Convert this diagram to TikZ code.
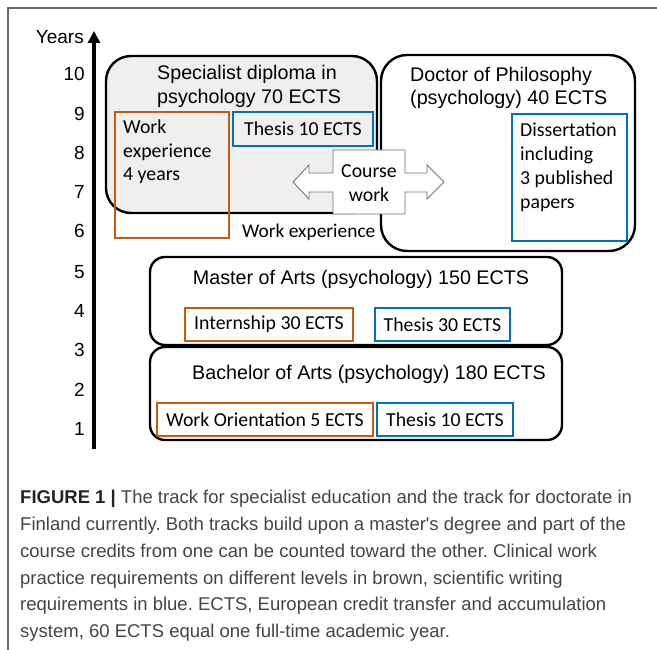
\documentclass[tikz,border=0pt]{standalone}
\usepackage{fontspec}
\setmainfont{Liberation Sans}
\newfontfamily\calfont{Carlito}
\newfontfamily\capfont{Liberation Sans}
\usetikzlibrary{arrows.meta}
\definecolor{brn}{RGB}{197,90,17}
\definecolor{blu}{RGB}{0,112,192}
\definecolor{lgray}{RGB}{239,239,239}
\definecolor{capgray}{RGB}{68,68,68}
\definecolor{capdark}{RGB}{35,35,35}
\frenchspacing
\begin{document}
\begin{tikzpicture}[x=1pt,y=-1pt,
  big/.style={draw=black, line width=2.4pt, rounded corners=#1, inner sep=0pt},
  big/.default=16pt,
  brnbox/.style={draw=brn, line width=2.6pt, inner sep=0pt},
  blubox/.style={draw=blu, line width=2.6pt, inner sep=0pt},
  head/.style={font=\fontsize{19.7}{23.5}\selectfont, inner sep=0pt, align=left},
  lab/.style={font=\calfont\fontsize{19.8}{23.5}\selectfont, inner sep=0pt, align=left},
  axlab/.style={font=\fontsize{19}{23}\selectfont, inner sep=0pt, anchor=east}
]
\useasboundingbox (0,0) rectangle (657,650);
% frame
\coordinate (fr1) at (657,8);
\coordinate (fr2) at (8,8);
\coordinate (fr3) at (8,650);
\draw[draw=black!60, line width=1.3pt] (fr1) -- (fr2) -- (fr3);

% axis
\coordinate (axb) at (94,449);
\coordinate (axt) at (94,31);
\draw[line width=4pt, -{Triangle[width=12pt,length=12pt]}] (axb) -- (axt);
\node[axlab] (years) at (84,37) {Years};
\foreach \n/\yy in {10/74,9/114,8/153,7/192,6/231,5/272,4/311,3/350,2/390,1/429}{
  \node[axlab] (t\n) at (85,\yy) {\n};
}

% big boxes
\node[big=25pt, fill=lgray, minimum width=271pt, minimum height=157pt] (spec) at (241.5,134.5) {};
\node[big=26pt, fill=white, minimum width=254pt, minimum height=196pt] (doc) at (508,153) {};
\node[big=15pt, minimum width=412pt, minimum height=88pt] (ma) at (356,301) {};
\node[big=15pt, minimum width=412pt, minimum height=93pt] (ba) at (356,393.5) {};

% coloured boxes
\node[brnbox, minimum width=114pt, minimum height=126pt] (work) at (172,175) {};
\node[blubox, minimum width=140pt, minimum height=34pt] (thspec) at (303,129) {};
\node[blubox, minimum width=115pt, minimum height=127pt] (diss) at (569.5,177.5) {};
\node[brnbox, minimum width=168pt, minimum height=33pt] (intern) at (269,324.5) {};
\node[blubox, minimum width=135pt, minimum height=33pt] (th30) at (442.5,324.5) {};
\node[brnbox, minimum width=216pt, minimum height=33pt] (wo) at (265,419.5) {};
\node[blubox, minimum width=136pt, minimum height=33pt] (th10) at (445,419.5) {};

% course work double arrow
\draw[draw=black!55, fill=white, line width=0.9pt]
  (293,182) -- (309,165) -- (309,173) -- (333,173) -- (333,150) -- (405,150)
  -- (405,173) -- (427,173) -- (427,165) -- (444,182) -- (427,199) -- (427,192)
  -- (405,192) -- (405,214) -- (333,214) -- (333,192) -- (309,192) -- (309,199) -- cycle;
\node[lab, align=center] (cw) at (369,183) {Course\\work};

% texts
\node[head, anchor=west] (spect) at (157,86.5) {Specialist diploma in\\psychology 70 ECTS};
\node[head, anchor=west] (doct) at (410,88) {Doctor of Philosophy\\(psychology) 40 ECTS};
\node[lab, anchor=west] (workt) at (123,152) {Work\\experience\\4 years};
\node[lab] (thspect) at (thspec.center) {Thesis 10 ECTS};
\node[lab, anchor=west, font=\calfont\fontsize{19.8}{24}\selectfont] (disst) at (520,167.5) {Dissertation\\including\\3 published\\papers};
\node[lab, anchor=west, font=\calfont\fontsize{19.4}{23.5}\selectfont] (wexp) at (242,232) {Work experience};
\node[head] (mat) at (361,279) {Master of Arts (psychology) 150 ECTS};
\node[lab] (internt) at (intern.center) {Internship 30 ECTS};
\node[lab] (th30t) at (th30.center) {Thesis 30 ECTS};
\node[head] (bat) at (369,374.5) {Bachelor of Arts (psychology) 180 ECTS};
\node[lab] (wot) at (wo.center) {Work Orientation 5 ECTS};
\node[lab] (th10t) at (th10.center) {Thesis 10 ECTS};

% caption
\node[font=\capfont\fontsize{18.5}{26.8}\selectfont, text=capgray, anchor=north west, inner sep=0pt, align=left] (cap) at (20,490)
{{\bfseries\color{capdark}FIGURE 1 |} The track for specialist education and the track for doctorate in\\
Finland currently. Both tracks build upon a master's degree and part of the\\
course credits from one can be counted toward the other. Clinical work\\
practice requirements on different levels in brown, scientific writing\\
requirements in blue. ECTS, European credit transfer and accumulation\\
system, 60 ECTS equal one full-time academic year.};
\end{tikzpicture}
\end{document}
